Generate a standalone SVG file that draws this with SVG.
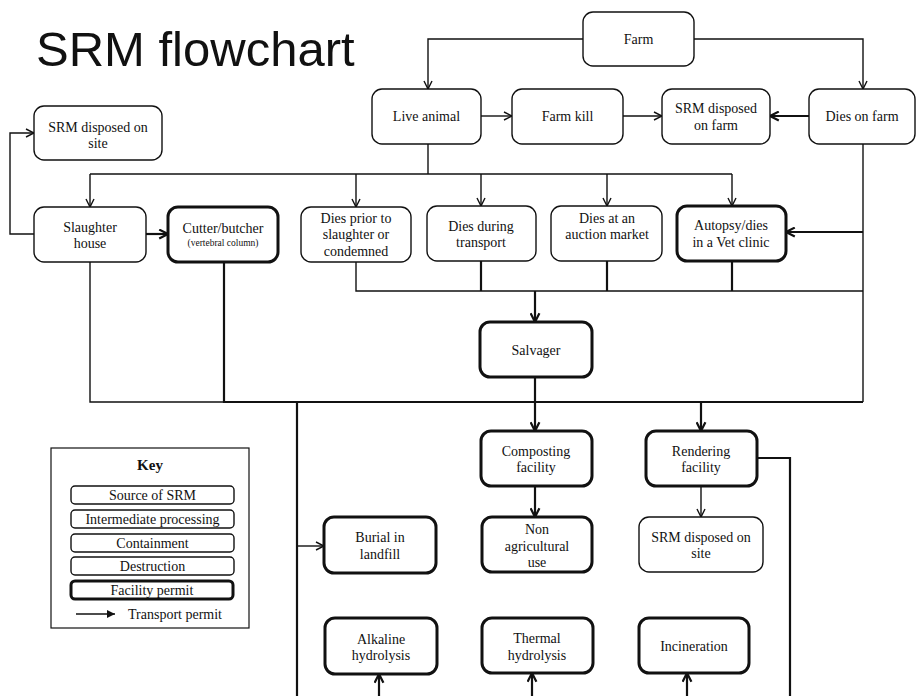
<svg xmlns="http://www.w3.org/2000/svg" width="916" height="696" viewBox="0 0 916 696">
  <style>
    .bg { fill: #ffffff; }
    .title { font-family: "Liberation Sans", Arial, sans-serif; font-size: 49px; fill: #111; }
    .box { fill: #ffffff; stroke: #111; stroke-width: 1.4; }
    .permit { fill: #ffffff; stroke: #111; stroke-width: 3; }
    .lbl { font-family: "Liberation Serif", "Times New Roman", serif; font-size: 14px; fill: #111; text-anchor: middle; }
    .small { font-size: 9.5px; }
    .key-title { font-family: "Liberation Serif", "Times New Roman", serif; font-size: 15px; font-weight: bold; fill: #111; text-anchor: middle; }
    .wire { fill: none; stroke: #111; stroke-width: 1.4; }
    .wire2 { fill: none; stroke: #111; stroke-width: 2.2; }
  </style>
  <defs>
    <marker id="open" viewBox="0 0 10 10" refX="9" refY="5" markerWidth="10" markerHeight="10" markerUnits="userSpaceOnUse" orient="auto">
      <path d="M1,1 L9,5 L1,9" fill="none" stroke="#111" stroke-width="1.4"/>
    </marker>
    <marker id="open2" viewBox="0 0 10 10" refX="9" refY="5" markerWidth="11" markerHeight="11" markerUnits="userSpaceOnUse" orient="auto">
      <path d="M1,1 L9,5 L1,9" fill="none" stroke="#111" stroke-width="2"/>
    </marker>
    <marker id="solid" viewBox="0 0 10 10" refX="10" refY="5" markerWidth="9" markerHeight="8" markerUnits="userSpaceOnUse" orient="auto">
      <path d="M0,0 L10,5 L0,10 Z" fill="#111"/>
    </marker>
  </defs>

  <rect class="bg" x="0" y="0" width="916" height="696"/>

  <text class="title" x="36" y="66">SRM flowchart</text>

  <!-- connectors -->
  <g id="connectors">
    <path class="wire" d="M583,39 H428 V89" marker-end="url(#open)"/>
    <path class="wire" d="M694,39 H863 V89" marker-end="url(#open)"/>
    <path class="wire" d="M481,116 H512" marker-end="url(#open)"/>
    <path class="wire" d="M623,116 H662" marker-end="url(#open)"/>
    <path class="wire2" d="M809,116 H770" marker-end="url(#open2)"/>

    <path class="wire" d="M428,144 V174"/>
    <path class="wire" d="M90,174 H732"/>
    <path class="wire" d="M90,174 V207" marker-end="url(#open)"/>
    <path class="wire" d="M356,174 V207" marker-end="url(#open)"/>
    <path class="wire" d="M481,174 V206" marker-end="url(#open)"/>
    <path class="wire" d="M607,174 V206" marker-end="url(#open)"/>
    <path class="wire" d="M732,174 V206" marker-end="url(#open)"/>

    <path class="wire" d="M34,234 H10 V133 H34" marker-end="url(#open)"/>
    <path class="wire2" d="M146,234 H168" marker-end="url(#open2)"/>

    <path class="wire" d="M863,144 V402"/>
    <path class="wire2" d="M863,232 H786" marker-end="url(#open2)"/>

    <path class="wire" d="M356,262 V291 H863"/>
    <path class="wire2" d="M481,261 V291"/>
    <path class="wire2" d="M607,261 V291"/>
    <path class="wire2" d="M732,261 V291"/>
    <path class="wire2" d="M535,291 V322" marker-end="url(#open2)"/>

    <path class="wire2" d="M535,377 V431" marker-end="url(#open2)"/>
    <path class="wire" d="M90,262 V402 H224"/>
    <path class="wire2" d="M224,262 V402 H863"/>
    <path class="wire2" d="M297,402 V696"/>
    <path class="wire" d="M297,546 H324" marker-end="url(#open)"/>
    <path class="wire2" d="M701,402 V431" marker-end="url(#open2)"/>

    <path class="wire2" d="M535,486 V517" marker-end="url(#open2)"/>
    <path class="wire" d="M701,486 V517" marker-end="url(#open)"/>
    <path class="wire2" d="M757,458 H790 V696"/>

    <path class="wire2" d="M379,696 V674" marker-end="url(#open2)"/>
    <path class="wire2" d="M532,696 V673" marker-end="url(#open2)"/>
    <path class="wire2" d="M687,696 V673" marker-end="url(#open2)"/>
  </g>

  <!-- sources and top row -->
  <g id="farm">
    <rect class="box" x="583" y="12" width="111" height="54" rx="10"/>
    <text class="lbl" x="638.5" y="44">Farm</text>
  </g>
  <g id="live-animal">
    <rect class="box" x="372" y="89" width="109" height="55" rx="10"/>
    <text class="lbl" x="426.5" y="121">Live animal</text>
  </g>
  <g id="farm-kill">
    <rect class="box" x="512" y="89" width="111" height="55" rx="10"/>
    <text class="lbl" x="567.5" y="121">Farm kill</text>
  </g>
  <g id="srm-farm">
    <rect class="box" x="662" y="89" width="108" height="55" rx="10"/>
    <text class="lbl" x="716" y="113">SRM disposed</text>
    <text class="lbl" x="716" y="130">on farm</text>
  </g>
  <g id="dies-on-farm">
    <rect class="box" x="809" y="89" width="106" height="55" rx="10"/>
    <text class="lbl" x="862" y="121">Dies on farm</text>
  </g>
  <g id="srm-site-top">
    <rect class="box" x="34" y="106" width="128" height="54" rx="10"/>
    <text class="lbl" x="98" y="132">SRM disposed on</text>
    <text class="lbl" x="98" y="148">site</text>
  </g>

  <!-- second row -->
  <g id="slaughter-house">
    <rect class="box" x="34" y="207" width="112" height="55" rx="10"/>
    <text class="lbl" x="90" y="232">Slaughter</text>
    <text class="lbl" x="90" y="248">house</text>
  </g>
  <g id="cutter-butcher">
    <rect class="permit" x="168" y="207" width="110" height="55" rx="10"/>
    <text class="lbl" x="223" y="233">Cutter/butcher</text>
    <text class="lbl small" x="223" y="246">(vertebral column)</text>
  </g>
  <g id="dies-prior">
    <rect class="box" x="301" y="207" width="110" height="55" rx="10"/>
    <text class="lbl" x="356" y="223">Dies prior to</text>
    <text class="lbl" x="356" y="239">slaughter or</text>
    <text class="lbl" x="356" y="256">condemned</text>
  </g>
  <g id="dies-transport">
    <rect class="box" x="427" y="206" width="109" height="55" rx="10"/>
    <text class="lbl" x="481" y="231">Dies during</text>
    <text class="lbl" x="481" y="247">transport</text>
  </g>
  <g id="dies-auction">
    <rect class="box" x="551" y="206" width="111" height="55" rx="10"/>
    <text class="lbl" x="607" y="223">Dies at an</text>
    <text class="lbl" x="607" y="239">auction market</text>
  </g>
  <g id="autopsy">
    <rect class="permit" x="677" y="206" width="109" height="55" rx="10"/>
    <text class="lbl" x="731" y="230">Autopsy/dies</text>
    <text class="lbl" x="731" y="247">in a Vet clinic</text>
  </g>

  <!-- processing -->
  <g id="salvager">
    <rect class="permit" x="480" y="322" width="112" height="55" rx="10"/>
    <text class="lbl" x="536" y="355">Salvager</text>
  </g>
  <g id="composting">
    <rect class="permit" x="481" y="431" width="111" height="55" rx="10"/>
    <text class="lbl" x="536" y="456">Composting</text>
    <text class="lbl" x="536" y="472">facility</text>
  </g>
  <g id="rendering">
    <rect class="permit" x="646" y="431" width="111" height="55" rx="10"/>
    <text class="lbl" x="701" y="456">Rendering</text>
    <text class="lbl" x="701" y="472">facility</text>
  </g>

  <!-- end points -->
  <g id="burial">
    <rect class="permit" x="324" y="517" width="112" height="56" rx="10"/>
    <text class="lbl" x="380" y="542">Burial in</text>
    <text class="lbl" x="380" y="559">landfill</text>
  </g>
  <g id="non-agricultural">
    <rect class="permit" x="482" y="517" width="110" height="55" rx="10"/>
    <text class="lbl" x="537" y="534">Non</text>
    <text class="lbl" x="537" y="551">agricultural</text>
    <text class="lbl" x="537" y="567">use</text>
  </g>
  <g id="srm-site-bottom">
    <rect class="box" x="639" y="517" width="124" height="55" rx="10"/>
    <text class="lbl" x="701" y="542">SRM disposed on</text>
    <text class="lbl" x="701" y="558">site</text>
  </g>
  <g id="alkaline">
    <rect class="permit" x="325" y="618" width="112" height="56" rx="10"/>
    <text class="lbl" x="381" y="644">Alkaline</text>
    <text class="lbl" x="381" y="660">hydrolysis</text>
  </g>
  <g id="thermal">
    <rect class="permit" x="482" y="618" width="111" height="55" rx="10"/>
    <text class="lbl" x="537" y="643">Thermal</text>
    <text class="lbl" x="537" y="660">hydrolysis</text>
  </g>
  <g id="incineration">
    <rect class="permit" x="639" y="618" width="110" height="55" rx="10"/>
    <text class="lbl" x="694" y="651">Incineration</text>
  </g>

  <!-- legend -->
  <g id="key">
    <rect x="51" y="448" width="198" height="180" fill="#ffffff" stroke="#111" stroke-width="1.2"/>
    <text class="key-title" x="150" y="470">Key</text>
    <rect class="box" x="71" y="486" width="163" height="18" rx="4"/>
    <text class="lbl" x="152.5" y="500">Source of SRM</text>
    <rect class="box" x="71" y="510" width="163" height="18" rx="4"/>
    <text class="lbl" x="152.5" y="524">Intermediate processing</text>
    <rect class="box" x="71" y="534" width="163" height="18" rx="4"/>
    <text class="lbl" x="152.5" y="548">Containment</text>
    <rect class="box" x="71" y="557" width="163" height="18" rx="4"/>
    <text class="lbl" x="152.5" y="571">Destruction</text>
    <rect class="permit" x="71" y="581" width="162" height="18" rx="4"/>
    <text class="lbl" x="152" y="595">Facility permit</text>
    <path class="wire" d="M76,614 H115" marker-end="url(#solid)"/>
    <text class="lbl" x="128" y="619" style="text-anchor:start">Transport permit</text>
  </g>
</svg>
